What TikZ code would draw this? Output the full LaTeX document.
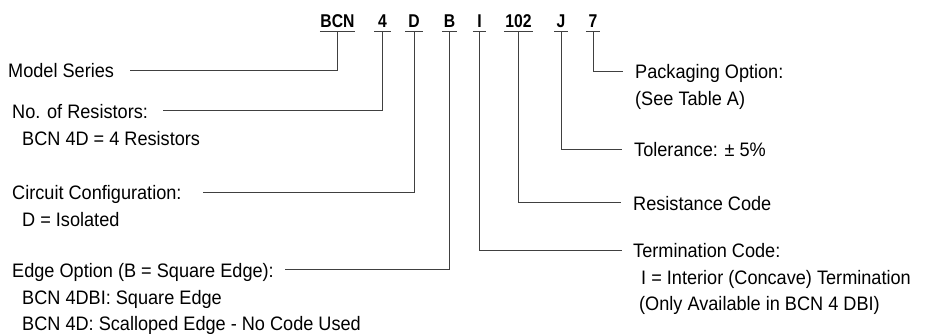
\documentclass[tikz,border=0pt]{standalone}
\usepackage{fontspec}
\setmainfont{Liberation Sans}[FakeStretch=0.93]
\newfontfamily\codefont{Liberation Sans}[FakeStretch=0.85]
\begin{document}
\begin{tikzpicture}[x=1pt,y=-1pt,
  code/.style={font=\codefont\bfseries\fontsize{18.5}{20}\selectfont, inner xsep=0pt, inner ysep=3.3pt, text depth=0pt, anchor=base},
  lbl/.style={font=\fontsize{19.5}{22}\selectfont, inner sep=0pt, anchor=base west},
  conn/.style={draw=black!75, line width=0.9pt},
  uline/.style={draw=black!75, line width=0.9pt}]
\useasboundingbox (0,0) rectangle (931,334);
% code letters
\node[code, minimum width=35pt] (cBCN) at (337.5,27.7) {BCN};
\node[code, minimum width=16pt] (c4) at (382.5,27.7) {4};
\node[code, minimum width=17pt] (cD) at (414,27.7) {D};
\node[code, minimum width=15pt] (cB) at (449.5,27.7) {B};
\node[code, minimum width=13pt] (cI) at (479.5,27.7) {I};
\node[code, minimum width=29pt] (c102) at (518.5,27.7) {102};
\node[code, minimum width=13pt] (cJ) at (561,27.7) {J};
\node[code, minimum width=14pt] (c7) at (593,27.7) {7};
\foreach \n in {cBCN,c4,cD,cB,cI,c102,cJ,c7}
  \draw[uline] ([yshift=0.2pt]\n.south west) -- ([yshift=0.2pt]\n.south east);
% left labels
\node[lbl] (ms) at (8,77.7) {Model Series};
\node[lbl] (nr) at (12,118) {No. of Resistors:};
\node[lbl] (nr2) at (22,145.5) {BCN 4D = 4 Resistors};
\node[lbl] (cc) at (12,199.5) {Circuit Configuration:};
\node[lbl] (cc2) at (22,226.5) {D = Isolated};
\node[lbl] (eo) at (12,277) {Edge Option (B = Square Edge):};
\node[lbl] (eo2) at (22,304.5) {BCN 4DBI: Square Edge};
\node[lbl] (eo3) at (22,330.5) {BCN 4D: Scalloped Edge - No Code Used};
% right labels
\node[lbl] (po) at (635,79) {Packaging Option:};
\node[lbl] (po2) at (635,105.5) {(See Table A)};
\node[lbl] (tol) at (634,157) {Tolerance: ± 5\%};
\node[lbl] (rc) at (633,210) {Resistance Code};
\node[lbl] (tc) at (633,257.5) {Termination Code:};
\node[lbl] (tc2) at (641,284) {I = Interior (Concave) Termination};
\node[lbl] (tc3) at (639,310.5) {(Only Available in BCN 4 DBI)};
% free ends
\coordinate (msE) at (130,70.5);
\coordinate (nrE) at (163,110.5);
\coordinate (ccE) at (202.7,192.3);
\coordinate (eoE) at (285,269.5);
\coordinate (poE) at (623,71.5);
\coordinate (tolE) at (622,149.5);
\coordinate (rcE) at (620.7,202.5);
\coordinate (tcE) at (622,250);
% connectors
\draw[conn] (cBCN.south) |- (msE);
\draw[conn] (c4.south) |- (nrE);
\draw[conn] (cD.south) |- (ccE);
\draw[conn] (cB.south) |- (eoE);
\draw[conn] (c7.south) |- (poE);
\draw[conn] (cJ.south) |- (tolE);
\draw[conn] (c102.south) |- (rcE);
\draw[conn] (cI.south) |- (tcE);
\end{tikzpicture}
\end{document}
